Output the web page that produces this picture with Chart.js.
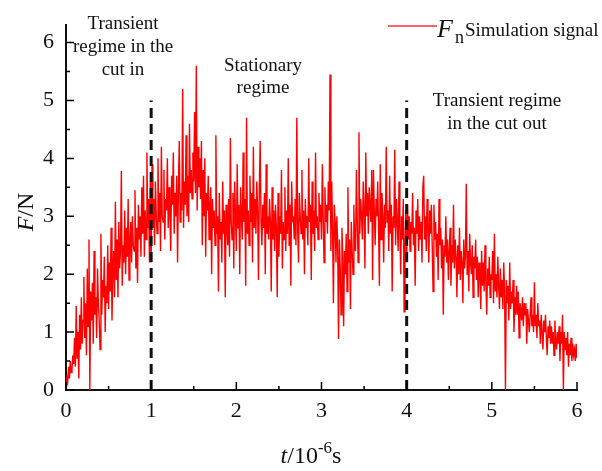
<!DOCTYPE html>
<html>
<head>
<meta charset="utf-8">
<script src="https://cdn.jsdelivr.net/npm/chart.js@4"></script>
<style>
html,body{margin:0;padding:0;background:#fff;}
</style>
</head>
<body>
<canvas id="myChart" width="602" height="471"></canvas>
<script>
// sample spacing of the signal, in 10^-6 s
const tStep = 0.01;

// F (N), one array per unit of t (10 samples per row = 0.1)
const fCutIn = [
  0.10,0.25,0.15,0.40,0.20,0.50,0.30,0.35,0.60,0.45,
  0.90,0.40,1.45,0.55,1.00,0.20,1.30,0.70,1.60,0.80,
  1.20,1.95,0.90,1.50,0.60,2.10,1.10,2.60,0.00,1.70,
  1.20,1.85,0.80,2.40,1.30,1.60,0.90,2.10,1.50,1.20,
  0.70,2.70,1.30,1.90,1.60,2.30,1.00,1.80,1.50,2.50,
  1.40,2.20,1.70,2.80,1.20,2.00,2.40,1.60,3.25,1.90,
  2.60,1.60,2.90,2.10,2.40,3.78,1.80,2.50,2.20,3.10,
  2.00,2.80,2.30,3.30,1.90,2.60,2.90,2.20,3.00,2.50,
  2.40,3.45,2.10,2.80,1.85,3.20,2.60,3.00,2.30,3.50,
  2.70,3.70,2.30,3.10,2.60,4.10,2.80,3.30,2.20,3.60];
const fStat1 = [
  2.20,3.90,2.80,3.30,2.50,3.60,3.00,2.70,4.00,2.90,
  3.40,2.40,4.20,3.00,2.90,3.80,2.60,3.30,3.10,4.00,
  2.80,3.50,3.00,2.40,3.70,3.20,4.10,2.70,3.40,3.00,
  3.70,2.20,3.50,4.30,2.90,3.40,3.10,5.20,2.80,3.60,
  3.20,4.40,3.00,3.70,2.90,4.60,3.40,3.80,3.30,4.10,
  3.60,4.80,3.40,5.60,3.10,4.20,3.50,4.00,3.30,4.30,
  2.50,3.80,3.00,4.00,2.30,3.40,3.10,3.70,2.60,3.20,
  3.50,2.00,3.30,2.80,3.10,2.50,4.40,2.70,3.00,1.70,
  3.40,2.60,2.90,2.20,3.60,2.70,3.10,1.60,3.20,2.80,
  2.50,3.30,2.30,4.35,2.90,2.60,3.40,2.10,3.60,3.00];
const fStat2 = [
  2.40,3.90,2.80,3.20,2.00,3.50,3.00,2.60,4.10,2.90,
  3.30,1.80,4.70,2.70,3.10,2.50,3.70,2.90,3.40,2.20,
  4.20,2.80,3.30,2.70,3.60,3.10,1.90,3.50,4.30,2.90,
  2.50,3.20,2.80,3.40,2.00,3.90,2.70,3.00,2.60,3.30,
  2.90,1.70,3.50,2.60,3.10,2.40,3.20,2.80,1.60,3.40,
  2.30,3.00,2.70,3.80,2.10,2.90,2.60,3.50,2.40,3.10,
  2.70,4.00,2.50,3.20,1.80,3.60,2.90,3.00,2.60,3.30,
  2.50,4.70,2.80,2.20,3.40,3.00,2.70,3.80,2.60,3.10,
  2.00,3.30,2.80,3.00,2.50,4.00,2.90,3.20,1.90,3.60,
  2.70,3.10,2.40,4.10,2.80,3.00,2.60,3.40,2.90,3.20];
const fStat3 = [
  2.60,3.90,3.00,2.20,3.50,2.90,3.20,2.70,3.60,3.10,
  5.45,2.40,3.60,2.80,1.50,3.20,2.90,2.20,3.00,2.50,
  0.88,2.60,2.10,1.30,2.80,2.30,1.10,2.40,2.00,2.70,
  1.70,3.50,2.20,2.60,1.40,2.90,2.40,2.00,3.20,2.50,
  2.40,3.80,2.90,2.20,4.45,2.70,3.30,3.00,2.60,3.60,
  3.10,2.10,4.10,3.00,3.40,2.70,3.50,3.20,2.90,3.80,
  1.90,3.80,3.10,2.50,3.30,3.00,3.60,2.80,1.80,3.90,
  2.60,3.40,3.00,2.20,3.20,2.80,4.20,2.90,3.10,2.40,
  3.70,2.70,3.20,1.70,3.00,2.80,4.15,2.50,3.30,2.90,
  2.40,3.60,2.80,2.00,3.00,2.60,3.30,1.35,2.50,3.10];
const fCutOut1 = [
  2.20,3.20,2.60,3.00,2.40,2.90,2.70,3.40,2.50,2.80,
  1.80,3.10,2.70,3.30,2.40,3.00,2.60,2.90,2.20,3.50,
  3.70,2.60,3.00,2.40,3.30,2.80,2.20,3.10,2.70,3.20,
  2.50,1.70,3.20,2.60,2.90,2.30,2.70,1.90,3.30,2.50,
  2.80,2.10,2.60,1.30,2.50,2.30,3.00,2.20,2.60,1.90,
  2.40,2.80,1.80,2.50,2.20,3.20,2.10,2.60,2.30,1.60,
  2.50,2.00,2.80,1.90,2.40,2.20,1.50,2.60,2.10,2.30,
  3.56,2.00,2.40,1.70,2.70,2.20,2.00,2.50,1.60,2.30,
  2.10,2.60,1.90,2.30,1.60,2.20,2.00,1.40,2.40,1.80,
  2.20,1.70,2.50,1.90,1.30,2.10,1.80,2.30,1.60,2.00];
const fCutOut2 = [
  1.90,2.40,1.50,2.70,1.70,2.00,1.60,2.30,1.80,1.40,
  2.10,1.60,1.90,1.40,2.20,1.70,0.00,1.90,1.50,1.80,
  1.20,2.20,1.40,1.70,1.50,1.90,1.00,1.60,1.30,1.80,
  1.30,1.70,0.90,1.50,1.40,1.20,1.60,1.10,1.50,1.30,
  1.50,0.80,1.40,1.20,1.00,1.30,1.60,1.10,1.30,1.00,
  1.86,1.10,1.30,0.90,1.50,1.10,1.20,0.80,1.30,1.00,
  0.70,1.20,1.00,1.30,0.90,0.60,1.10,0.90,1.20,0.80,
  1.10,0.80,1.00,0.60,1.20,0.90,0.70,1.00,0.80,1.10,
  0.50,1.00,0.80,1.30,0.00,1.00,0.70,0.90,0.60,1.00,
  0.40,0.80,0.60,0.90,0.50,0.80,0.60,0.70,0.50,0.80,
  0.55];

// regime boundaries (dashed lines) and their height
const cutLines = [1, 4];
const cutLineTop = 5;

const serif = "'Liberation Serif', 'Times New Roman', serif";

var force = [].concat(fCutIn, fStat1, fStat2, fStat3, fCutOut1, fCutOut2);
var signal = force.map(function (v, i) {
  return { x: +(i * tStep).toFixed(2), y: v };
});

var dashSets = cutLines.map(function (t) {
  return {
    data: [{ x: t, y: 0 }, { x: t, y: cutLineTop }],
    borderColor: '#111',
    borderWidth: 3,
    borderDash: [10, 6],
    pointRadius: 0,
    fill: false,
    order: 0
  };
});

// minor/major inward ticks, axis titles, legend and regime notes
const decor = {
  id: 'decor',
  afterDraw: function (chart) {
    var c = chart.ctx;
    var xs = chart.scales.x, ys = chart.scales.y;
    var a = chart.chartArea;
    c.save();
    c.strokeStyle = '#000';
    c.lineWidth = 1.5;
    c.beginPath();
    for (var i = 0; i <= 12; i++) {
      var v = i * 0.5;
      var len = i % 2 === 0 ? 8 : 4;
      var px = xs.getPixelForValue(v);
      c.moveTo(px, a.bottom); c.lineTo(px, a.bottom - len);
      var py = ys.getPixelForValue(v);
      c.moveTo(a.left, py); c.lineTo(a.left + len, py);
    }
    c.stroke();

    c.fillStyle = '#111';
    c.textBaseline = 'alphabetic';

    // y title: F/N
    c.save();
    c.translate(33, 212);
    c.rotate(-Math.PI / 2);
    c.font = 'italic 24px ' + serif;
    var w1 = c.measureText('F').width;
    c.font = '24px ' + serif;
    var w2 = c.measureText('/N').width;
    var x0 = -(w1 + w2) / 2;
    c.font = 'italic 24px ' + serif;
    c.textAlign = 'left';
    c.fillText('F', x0, 0);
    c.font = '24px ' + serif;
    c.fillText('/N', x0 + w1, 0);
    c.restore();

    // x title: t/10^-6 s
    c.textAlign = 'left';
    var parts = [
      { s: 't', f: 'italic 24px ' + serif, dy: 0 },
      { s: '/10', f: '24px ' + serif, dy: 0 },
      { s: '-6', f: '17px ' + serif, dy: -10 },
      { s: 's', f: '24px ' + serif, dy: 0 }
    ];
    var tw = 0;
    parts.forEach(function (p) { c.font = p.f; p.w = c.measureText(p.s).width; tw += p.w; });
    var cx = 311 - tw / 2;
    parts.forEach(function (p) { c.font = p.f; c.fillText(p.s, cx, 463 + p.dy); cx += p.w; });

    // legend
    c.strokeStyle = '#ff3333';
    c.lineWidth = 1.5;
    c.beginPath();
    c.moveTo(388, 26); c.lineTo(437, 26);
    c.stroke();
    c.font = 'italic 26px ' + serif;
    c.fillText('F', 437, 37);
    c.font = '18px ' + serif;
    c.fillText('n', 455, 43);
    c.font = '19px ' + serif;
    c.fillText('Simulation signal', 465, 36);

    // regime notes
    c.textAlign = 'center';
    c.font = '19px ' + serif;
    c.fillText('Transient', 123, 29);
    c.fillText('regime in the', 123, 52);
    c.fillText('cut in', 123, 75);
    c.fillText('Stationary', 263, 71);
    c.fillText('regime', 263, 93);
    c.fillText('Transient regime', 497, 106);
    c.fillText('in the cut out', 497, 129);
    c.restore();
  }
};

var ctx = document.getElementById('myChart').getContext('2d');
const chart = new Chart(ctx, {
  type: 'line',
  data: {
    datasets: [{
      label: 'Fn Simulation signal',
      data: signal,
      borderColor: '#ff0000',
      borderWidth: 1.4,
      pointRadius: 0,
      fill: false,
      tension: 0,
      order: 1
    }].concat(dashSets)
  },
  options: {
    responsive: false,
    animation: false,
    layout: { padding: { left: 0, right: 25, top: 17, bottom: 0 } },
    plugins: { legend: { display: false }, tooltip: { enabled: false } },
    scales: {
      x: {
        type: 'linear', min: 0, max: 6,
        ticks: { stepSize: 1, color: '#111', padding: 8, maxRotation: 0,
          font: { family: serif, size: 22 } },
        grid: { display: false, drawTicks: false },
        border: { color: '#111', width: 2 },
        afterFit: function (s) { s.height = 81; }
      },
      y: {
        type: 'linear', min: 0, max: 6.3,
        ticks: { stepSize: 1, includeBounds: false, color: '#111', padding: 12,
          font: { family: serif, size: 22 } },
        grid: { display: false, drawTicks: false },
        border: { color: '#111', width: 2 },
        afterFit: function (s) { s.width = 66; }
      }
    }
  },
  plugins: [decor]
});
</script>
</body>
</html>
